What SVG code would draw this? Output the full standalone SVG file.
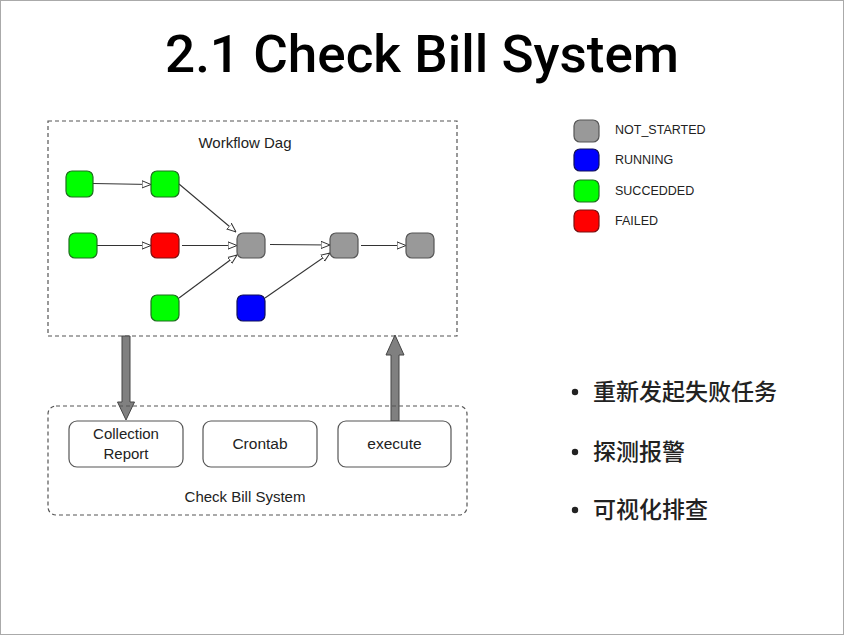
<svg xmlns="http://www.w3.org/2000/svg" width="844" height="635" viewBox="0 0 844 635">
<defs>
<marker id="open" viewBox="0 0 10 10" refX="10" refY="5" markerWidth="9" markerHeight="9" markerUnits="userSpaceOnUse" orient="auto">
<path d="M0,1 L10,5 L0,9 Z" fill="#fff" stroke="#333" stroke-width="1.1"/>
</marker>
</defs>
<style>
.t{font-family:"Liberation Sans",Arial,sans-serif;fill:#222}
.cjk{font-family:"Noto Sans CJK SC","Noto Sans",sans-serif;fill:#222;font-size:23px;font-weight:500}
.dash{fill:none;stroke:#555;stroke-width:1.2;stroke-dasharray:4 3}
.g{fill:#00ff00;stroke:#1e6e1e;stroke-width:1.2}
.r{fill:#ff0000;stroke:#7a1010;stroke-width:1.2}
.b{fill:#0000ff;stroke:#10105a;stroke-width:1.2}
.n{fill:#999;stroke:#555;stroke-width:1.2}
.edge{stroke:#333;stroke-width:1.1;fill:none;marker-end:url(#open)}
.box{fill:#fff;stroke:#555;stroke-width:1.2}
.big{fill:#808080;stroke:#444;stroke-width:1}
.title{font-family:Roboto,"Liberation Sans",Arial,sans-serif;font-weight:500;fill:#000}
</style>
<rect x="0.5" y="0.5" width="843" height="634" fill="#fff" stroke="#aaa"/>
<text class="title" x="422" y="72" font-size="52" text-anchor="middle" textLength="514" lengthAdjust="spacingAndGlyphs">2.1 Check Bill System</text>

<g id="workflow-dag">
<rect class="dash" x="48" y="121" width="409" height="215"/>
<text class="t" x="245" y="148" font-size="15" text-anchor="middle">Workflow Dag</text>
</g>

<g id="connectors">
<line class="edge" x1="93" y1="183.5" x2="151" y2="184.5"/>
<line class="edge" x1="179" y1="184" x2="236" y2="232"/>
<line class="edge" x1="97" y1="245.5" x2="151" y2="245.5"/>
<line class="edge" x1="182" y1="245.5" x2="237" y2="245.5"/>
<line class="edge" x1="179" y1="298" x2="237" y2="255"/>
<line class="edge" x1="270" y1="244.5" x2="330" y2="245"/>
<line class="edge" x1="265" y1="298" x2="330" y2="253"/>
<line class="edge" x1="361" y1="245.5" x2="406" y2="245.5"/>
<path class="big" d="M122,336 L130,336 L130,402 L134.5,402 L126,420 L117.5,402 L122,402 Z"/>
<path class="big" d="M391,421 L399,421 L399,355 L404,355 L395,335 L386,355 L391,355 Z"/>
</g>

<g id="n-a1"><rect class="g" x="66" y="171" width="27" height="26" rx="6"/></g>
<g id="n-a2"><rect class="g" x="151" y="171" width="28" height="26" rx="6"/></g>
<g id="n-b1"><rect class="g" x="69" y="233" width="28" height="25" rx="6"/></g>
<g id="n-b2"><rect class="r" x="151" y="233" width="28" height="25" rx="6"/></g>
<g id="n-c"><rect class="g" x="151" y="295" width="28" height="26" rx="6"/></g>
<g id="n-g1"><rect class="n" x="237" y="233" width="28" height="25" rx="6"/></g>
<g id="n-blue"><rect class="b" x="237" y="295" width="28" height="26" rx="6"/></g>
<g id="n-g2"><rect class="n" x="330" y="233" width="28" height="25" rx="6"/></g>
<g id="n-g3"><rect class="n" x="406" y="233" width="28" height="25" rx="6"/></g>

<g id="legend">
<rect class="n" x="574" y="120" width="25" height="22" rx="6"/>
<text class="t" x="615" y="134" font-size="12.5">NOT_STARTED</text>
<rect class="b" x="574" y="149" width="25" height="22" rx="6"/>
<text class="t" x="615" y="164" font-size="12.5">RUNNING</text>
<rect class="g" x="574" y="180" width="25" height="22" rx="6"/>
<text class="t" x="615" y="195" font-size="12.5">SUCCEDDED</text>
<rect class="r" x="574" y="210" width="25" height="22" rx="6"/>
<text class="t" x="615" y="225" font-size="12.5">FAILED</text>
</g>

<g id="check-bill-system">
<rect class="dash" x="48" y="406" width="419" height="109" rx="8"/>
<text class="t" x="245" y="502" font-size="15" text-anchor="middle">Check Bill System</text>
</g>
<g id="collection-report">
<rect class="box" x="69" y="421" width="114" height="46" rx="8"/>
<text class="t" x="126" y="439" font-size="15" text-anchor="middle">Collection</text>
<text class="t" x="126" y="459" font-size="15" text-anchor="middle">Report</text>
</g>
<g id="crontab">
<rect class="box" x="203" y="421" width="114" height="46" rx="8"/>
<text class="t" x="260" y="449" font-size="15.5" text-anchor="middle">Crontab</text>
</g>
<g id="execute">
<rect class="box" x="338" y="421" width="113" height="46" rx="8"/>
<text class="t" x="394.5" y="449" font-size="15.5" text-anchor="middle">execute</text>
</g>

<g id="bullets">
<circle cx="575" cy="392" r="3.2" fill="#222"/>
<text class="cjk" x="593" y="400">重新发起失败任务</text>
<circle cx="575" cy="452" r="3.2" fill="#222"/>
<text class="cjk" x="593" y="460">探测报警</text>
<circle cx="575" cy="510" r="3.2" fill="#222"/>
<text class="cjk" x="593" y="518">可视化排查</text>
</g>
</svg>
